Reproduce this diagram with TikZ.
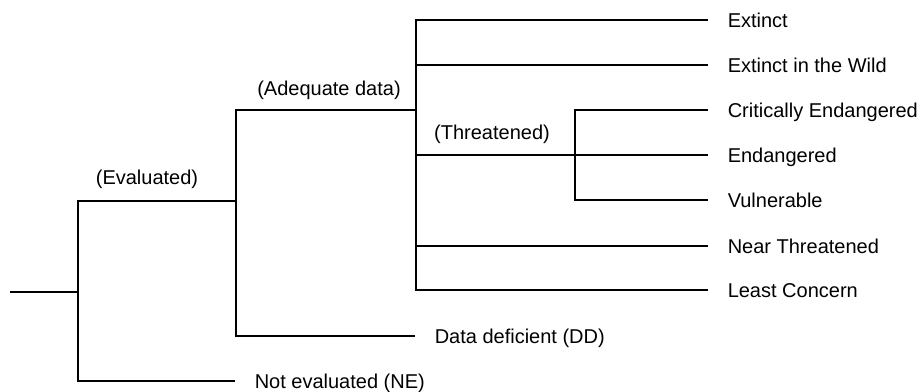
\documentclass[tikz,border=0pt]{standalone}
\usepackage{fontspec}
\setmainfont{Liberation Sans}
\usepackage{tikz}
\def\leafgap{19pt}

\begin{document}
\begin{tikzpicture}[x=1pt,y=-1pt,line width=1.5pt,font=\fontsize{20}{24}\selectfont]
    \tikzstyle{leaf}=[anchor=west,inner sep=0pt,text height=14pt,text depth=0pt]
    \tikzstyle{group}=[inner sep=0pt,text height=14pt,text depth=0pt]
    \useasboundingbox (0,0) rectangle (921,391);

    % Branch points of the tree
    \coordinate (root) at (10,292);
    \coordinate (J-eval) at (78,292);
    \coordinate (J-data) at (236,201);
    \coordinate (J-adeq) at (416,110);
    \coordinate (J-thr) at (575,155);

    % Draw the leaves with adequate data
    \foreach \name / \y / \txt in {EX/20/Extinct, EW/65/Extinct in the Wild, NT/246/Near Threatened, LC/290/Least Concern}
        \node[leaf] (L-\name) at (727,\y) {\txt};

    % Draw the threatened leaves
    \foreach \name / \y / \txt in {CR/110/Critically Endangered, EN/155/Endangered, VU/200/Vulnerable}
        \node[leaf] (L-\name) at (727,\y) {\txt};

    \node[leaf] (L-DD) at (434,336) {Data deficient (DD)};
    \node[leaf] (L-NE) at (254,381) {Not evaluated (NE)};

    % Labels of the groups
    \node[group] (G-eval) at (147,177) {(Evaluated)};
    \node[group] (G-adeq) at (329,88) {(Adequate data)};
    \node[group] (G-thr) at (492,132) {(Threatened)};

    % Connect the branch points with each other and with the leaves
    \draw (root) -- (J-eval);
    \draw (J-eval) |- (J-data);
    \draw (J-eval) |- ([xshift=-\leafgap]L-NE.west);
    \draw (J-data) |- (J-adeq);
    \draw (J-data) |- ([xshift=-\leafgap]L-DD.west);
    \foreach \name in {EX,EW,NT,LC}
        \draw (J-adeq) |- ([xshift=-\leafgap]L-\name.west);
    \draw (J-adeq) |- (J-thr);
    \foreach \name in {CR,EN,VU}
        \draw (J-thr) |- ([xshift=-\leafgap]L-\name.west);

\end{tikzpicture}
\end{document}
